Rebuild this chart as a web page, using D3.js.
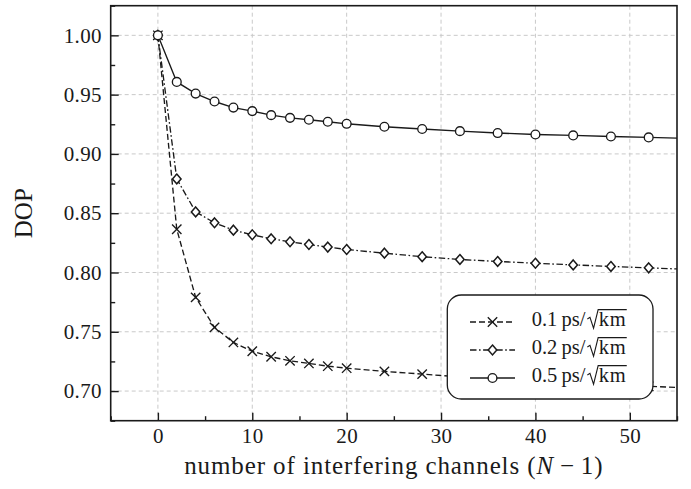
<!DOCTYPE html>
<html>
<head>
<meta charset="utf-8">
<script src="https://cdn.jsdelivr.net/npm/d3@7"></script>
<style>
  html, body { margin: 0; padding: 0; background: #fff; }
  svg { display: block; }
  text { font-family: "Liberation Serif", "Times New Roman", serif; fill: #1a1a1a; }
</style>
</head>
<body>
<svg id="chart" width="691" height="489"></svg>
<script>
// Number of interfering channels (N - 1)
const channels = [0, 2, 4, 6, 8, 10, 12, 14, 16, 18, 20, 24, 28, 32, 36, 40, 44, 48, 52, 56];

// Degree of polarization for three PMD coefficients
const dop01 = [1.000, 0.8365, 0.7790, 0.7537, 0.7410, 0.7336, 0.7289, 0.7255, 0.7233, 0.7210,
               0.7193, 0.7166, 0.7143, 0.7120, 0.7100, 0.7084, 0.7068, 0.7054, 0.7040, 0.7028];
const dop02 = [1.000, 0.8789, 0.8511, 0.8419, 0.8357, 0.8318, 0.8284, 0.8259, 0.8236, 0.8214,
               0.8194, 0.8163, 0.8133, 0.8110, 0.8093, 0.8078, 0.8064, 0.8051, 0.8039, 0.8027];
const dop05 = [1.000, 0.9607, 0.9509, 0.9442, 0.9391, 0.9361, 0.9327, 0.9304, 0.9288, 0.9271,
               0.9254, 0.9229, 0.9210, 0.9192, 0.9176, 0.9164, 0.9156, 0.9147, 0.9139, 0.9132];

const seriesLabels = ["0.1", "0.2", "0.5"];

const xMajorTicks = [0, 10, 20, 30, 40, 50];
const xMinorTicks = [-5, 5, 15, 25, 35, 45, 55];
const yMajorTicks = [0.70, 0.75, 0.80, 0.85, 0.90, 0.95, 1.00];
const yMinorTicks = [0.675, 0.725, 0.775, 0.825, 0.875, 0.925, 0.975, 1.025];

const svg = d3.select("#chart");
const plot = { left: 110.7, right: 677, top: 5.7, bottom: 420.7 };

const x = d3.scaleLinear().domain([-5, 55]).range([plot.left, plot.right]);
const y = d3.scaleLinear().domain([0.675, 1.025]).range([plot.bottom, plot.top]);

const ink = "#1a1a1a";

// clip region for the data
svg.append("defs").append("clipPath").attr("id", "plotClip")
  .append("rect")
  .attr("x", plot.left).attr("y", plot.top)
  .attr("width", plot.right - plot.left).attr("height", plot.bottom - plot.top);

// grid
const grid = svg.append("g").attr("class", "grid")
  .attr("stroke", "#c9c9c9").attr("stroke-width", 1).attr("stroke-dasharray", "4,3");
grid.selectAll("line.gx").data(xMajorTicks).join("line")
  .attr("class", "gx")
  .attr("x1", d => x(d)).attr("x2", d => x(d))
  .attr("y1", plot.top).attr("y2", plot.bottom);
grid.selectAll("line.gy").data(yMajorTicks).join("line")
  .attr("class", "gy")
  .attr("y1", d => y(d)).attr("y2", d => y(d))
  .attr("x1", plot.left).attr("x2", plot.right);

// axes (ticks point inward)
const xAxis = d3.axisBottom(x).tickValues(xMajorTicks).tickFormat(d3.format("d"))
  .tickSizeInner(-8).tickSizeOuter(0).tickPadding(7.5);
const xMinor = d3.axisBottom(x).tickValues(xMinorTicks).tickFormat("")
  .tickSizeInner(-4.5).tickSizeOuter(0);
const yAxis = d3.axisLeft(y).tickValues(yMajorTicks).tickFormat(d3.format(".2f"))
  .tickSizeInner(-8).tickSizeOuter(0).tickPadding(8.7);
const yMinor = d3.axisLeft(y).tickValues(yMinorTicks).tickFormat("")
  .tickSizeInner(-4.5).tickSizeOuter(0);

function styleAxis(g) {
  g.select(".domain").remove();
  g.selectAll(".tick line").attr("stroke", ink).attr("stroke-width", 1.4);
  g.selectAll(".tick text")
    .attr("fill", ink)
    .style("font-family", '"Liberation Serif", serif')
    .style("font-size", "21px")
    .style("letter-spacing", "0.4px");
}

svg.append("g").attr("transform", `translate(0,${plot.bottom})`).call(xAxis).call(styleAxis);
svg.append("g").attr("transform", `translate(0,${plot.bottom})`).call(xMinor).call(styleAxis);
svg.append("g").attr("transform", `translate(${plot.left},0)`).call(yAxis).call(styleAxis);
svg.append("g").attr("transform", `translate(${plot.left},0)`).call(yMinor).call(styleAxis);

// series
const markers = {
  cross: "M-4.7,-4.7L4.7,4.7M-4.7,4.7L4.7,-4.7",
  diamond: "M0,-4.9L4.3,0L0,4.9L-4.3,0Z"
};

const series = [
  { values: dop01, dash: "6,3", marker: "cross" },
  { values: dop02, dash: "6.5,2.5,1.6,2.5", marker: "diamond" },
  { values: dop05, dash: null, marker: "circle" }
];

const line = d3.line().x(d => x(d[0])).y(d => y(d[1]));
const dataLayer = svg.append("g").attr("clip-path", "url(#plotClip)");

function drawMarker(g, kind) {
  if (kind === "circle") {
    g.append("circle").attr("r", 4.4)
      .attr("fill", "#fff").attr("stroke", ink).attr("stroke-width", 1.35);
  } else if (kind === "diamond") {
    g.append("path").attr("d", markers.diamond)
      .attr("fill", "#fff").attr("stroke", ink).attr("stroke-width", 1.5);
  } else {
    g.append("path").attr("d", markers.cross)
      .attr("fill", "none").attr("stroke", ink).attr("stroke-width", 1.35);
  }
}

series.forEach(s => {
  const pts = channels.map((c, i) => [c, s.values[i]]);
  dataLayer.append("path").datum(pts)
    .attr("d", line)
    .attr("fill", "none").attr("stroke", ink).attr("stroke-width", 1.35)
    .attr("stroke-dasharray", s.dash);
  dataLayer.selectAll(null).data(pts).join("g")
    .attr("transform", d => `translate(${x(d[0])},${y(d[1])})`)
    .each(function() { drawMarker(d3.select(this), s.marker); });
});

// frame
svg.append("rect")
  .attr("x", plot.left).attr("y", plot.top)
  .attr("width", plot.right - plot.left).attr("height", plot.bottom - plot.top)
  .attr("fill", "none").attr("stroke", ink).attr("stroke-width", 1.6);

// axis titles
svg.append("text")
  .attr("transform", `translate(32,${(plot.top + plot.bottom) / 2}) rotate(-90)`)
  .attr("text-anchor", "middle")
  .style("font-size", "25px")
  .text("DOP");

const xTitle = svg.append("text")
  .attr("x", (plot.left + plot.right) / 2).attr("y", 474)
  .attr("text-anchor", "middle")
  .style("font-size", "25px")
  .style("letter-spacing", "0.9px");
xTitle.append("tspan").text("number of interfering channels (");
xTitle.append("tspan").style("font-style", "italic").text("N");
xTitle.append("tspan").text("\u2009\u2212\u20091)");

// legend
const legend = svg.append("g");
legend.append("rect")
  .attr("x", 447.3).attr("y", 295).attr("width", 205.7).attr("height", 104)
  .attr("rx", 14).attr("ry", 14)
  .attr("fill", "#fff").attr("stroke", ink).attr("stroke-width", 1.3);

const rowY = [322, 350, 378];
series.forEach((s, i) => {
  const yy = rowY[i];
  const row = legend.append("g");
  row.append("line")
    .attr("x1", 470).attr("x2", 515).attr("y1", yy).attr("y2", yy)
    .attr("stroke", ink).attr("stroke-width", 1.35)
    .attr("stroke-dasharray", s.dash);
  const m = row.append("g").attr("transform", `translate(492.5,${yy})`);
  drawMarker(m, s.marker);

  const base = yy + 4;
  const t1 = row.append("text")
    .attr("x", 531.7).attr("y", base)
    .style("font-size", "20.5px")
    .text(`${seriesLabels[i]}\u2009ps/`);
  const w1 = t1.node().getComputedTextLength();
  const a = 531.7 + w1 + 2;
  const km = row.append("text")
    .attr("x", a + 11.5).attr("y", base)
    .style("font-size", "20.5px")
    .style("letter-spacing", "0.6px")
    .text("km");
  const wk = km.node().getComputedTextLength();
  row.append("path")
    .attr("d", `M${a},${base - 7} L${a + 2.6},${base - 8.6} L${a + 6.2},${base + 2.2} L${a + 10.8},${base - 16.4} L${a + 11.5 + wk + 0.5},${base - 16.4}`)
    .attr("fill", "none").attr("stroke", ink).attr("stroke-width", 1.1)
    .attr("stroke-linejoin", "miter");
});
</script>
</body>
</html>
